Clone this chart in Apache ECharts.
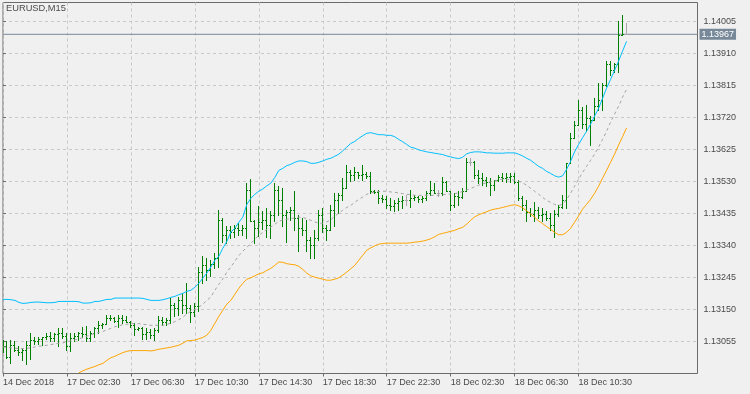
<!DOCTYPE html>
<html><head><meta charset="utf-8">
<script src="https://cdn.jsdelivr.net/npm/echarts@6/dist/echarts.min.js"></script>
<style>html,body{margin:0;padding:0;background:#f0f0f0;}#c{width:750px;height:394px;}</style>
</head><body><div id="c"></div>
<script>
const symbol = 'EURUSD,M15';
const timeLabels = ['14 Dec 2018','17 Dec 02:30','17 Dec 06:30','17 Dec 10:30','17 Dec 14:30','17 Dec 18:30','17 Dec 22:30','18 Dec 02:30','18 Dec 06:30','18 Dec 10:30'];
const yTickValues = [1.13055,1.13150,1.13245,1.13340,1.13435,1.13530,1.13625,1.13720,1.13815,1.13910,1.14005];
const lastPrice = 1.13967;

const openP = [
1.13029,1.13039,1.13008,1.13044,1.13029,1.13023,1.13029,1.13044,1.13059,1.13056,
1.13062,1.13067,1.13070,1.13065,1.13076,1.13079,1.13070,1.13041,1.13065,1.13070,
1.13079,1.13076,1.13065,1.13079,1.13094,1.13103,1.13106,1.13124,1.13122,1.13115,
1.13124,1.13118,1.13112,1.13103,1.13091,1.13094,1.13076,1.13082,1.13074,1.13088,
1.13118,1.13112,1.13118,1.13163,1.13154,1.13177,1.13163,1.13154,1.13142,1.13160,
1.13261,1.13281,1.13266,1.13284,1.13302,1.13415,1.13370,1.13385,1.13379,1.13391,
1.13385,1.13391,1.13504,1.13412,1.13391,1.13409,1.13415,1.13400,1.13430,1.13504,
1.13474,1.13430,1.13439,1.13445,1.13421,1.13391,1.13385,1.13356,1.13341,1.13361,
1.13430,1.13391,1.13385,1.13445,1.13474,1.13489,1.13510,1.13557,1.13549,1.13557,
1.13549,1.13551,1.13546,1.13501,1.13498,1.13480,1.13477,1.13459,1.13456,1.13465,
1.13471,1.13474,1.13474,1.13480,1.13483,1.13477,1.13480,1.13495,1.13504,1.13495,
1.13495,1.13528,1.13499,1.13459,1.13486,1.13483,1.13501,1.13587,1.13587,1.13549,
1.13540,1.13534,1.13528,1.13519,1.13534,1.13543,1.13540,1.13543,1.13546,1.13528,
1.13480,1.13459,1.13439,1.13433,1.13445,1.13430,1.13433,1.13421,1.13400,1.13433,
1.13454,1.13474,1.13583,1.13658,1.13697,1.13741,1.13700,1.13718,1.13712,1.13753,
1.13771,1.13816,1.13878,1.13860,1.13878,1.13964,1.13967];
const highP = [
1.13059,1.13054,1.13059,1.13056,1.13039,1.13034,1.13054,1.13079,1.13067,1.13067,
1.13068,1.13079,1.13083,1.13080,1.13095,1.13093,1.13079,1.13079,1.13080,1.13083,
1.13098,1.13100,1.13086,1.13098,1.13113,1.13108,1.13133,1.13133,1.13125,1.13133,
1.13133,1.13128,1.13113,1.13108,1.13096,1.13098,1.13093,1.13090,1.13093,1.13128,
1.13125,1.13123,1.13182,1.13168,1.13187,1.13197,1.13227,1.13163,1.13168,1.13276,
1.13308,1.13301,1.13296,1.13316,1.13445,1.13420,1.13395,1.13395,1.13400,1.13405,
1.13400,1.13524,1.13536,1.13415,1.13456,1.13440,1.13450,1.13440,1.13524,1.13514,
1.13509,1.13445,1.13454,1.13499,1.13430,1.13420,1.13415,1.13365,1.13385,1.13445,
1.13450,1.13400,1.13460,1.13494,1.13494,1.13540,1.13578,1.13563,1.13573,1.13558,
1.13578,1.13558,1.13558,1.13504,1.13504,1.13489,1.13484,1.13479,1.13474,1.13479,
1.13484,1.13489,1.13504,1.13489,1.13484,1.13484,1.13499,1.13529,1.13524,1.13504,
1.13543,1.13529,1.13501,1.13494,1.13499,1.13509,1.13598,1.13598,1.13588,1.13563,
1.13554,1.13543,1.13539,1.13534,1.13549,1.13554,1.13554,1.13554,1.13554,1.13534,
1.13484,1.13474,1.13451,1.13469,1.13454,1.13450,1.13440,1.13435,1.13445,1.13460,
1.13489,1.13583,1.13672,1.13707,1.13771,1.13751,1.13756,1.13722,1.13776,1.13821,
1.13822,1.13885,1.13885,1.13880,1.14004,1.14024,1.13999];
const lowP = [
1.13023,1.13004,1.12991,1.13024,1.13014,1.12999,1.12987,1.13001,1.13047,1.13047,
1.13044,1.13061,1.13054,1.13056,1.13039,1.13064,1.13029,1.13026,1.13054,1.13059,
1.13068,1.13054,1.13054,1.13068,1.13079,1.13093,1.13106,1.13118,1.13110,1.13098,
1.13108,1.13110,1.13098,1.13074,1.13088,1.13061,1.13061,1.13064,1.13059,1.13083,
1.13103,1.13103,1.13108,1.13128,1.13133,1.13138,1.13138,1.13110,1.13128,1.13143,
1.13227,1.13237,1.13247,1.13272,1.13276,1.13350,1.13346,1.13361,1.13364,1.13370,
1.13370,1.13361,1.13410,1.13346,1.13367,1.13387,1.13364,1.13361,1.13410,1.13430,
1.13395,1.13350,1.13415,1.13385,1.13321,1.13370,1.13321,1.13301,1.13301,1.13356,
1.13380,1.13356,1.13385,1.13395,1.13435,1.13474,1.13509,1.13529,1.13534,1.13539,
1.13534,1.13539,1.13494,1.13494,1.13464,1.13469,1.13450,1.13445,1.13440,1.13445,
1.13450,1.13460,1.13454,1.13474,1.13469,1.13469,1.13474,1.13489,1.13494,1.13484,
1.13489,1.13499,1.13445,1.13454,1.13460,1.13479,1.13499,1.13578,1.13539,1.13524,
1.13519,1.13514,1.13489,1.13504,1.13529,1.13529,1.13528,1.13528,1.13524,1.13474,
1.13445,1.13410,1.13425,1.13410,1.13420,1.13410,1.13415,1.13385,1.13365,1.13425,
1.13450,1.13450,1.13583,1.13657,1.13697,1.13687,1.13677,1.13638,1.13712,1.13741,
1.13741,1.13811,1.13845,1.13855,1.13855,1.13964,1.13967];
const closeP = [
1.13039,1.13008,1.13044,1.13029,1.13023,1.13029,1.13044,1.13059,1.13056,1.13062,
1.13067,1.13070,1.13065,1.13076,1.13079,1.13070,1.13041,1.13065,1.13070,1.13079,
1.13076,1.13065,1.13079,1.13094,1.13103,1.13106,1.13124,1.13122,1.13115,1.13124,
1.13118,1.13112,1.13103,1.13091,1.13094,1.13076,1.13082,1.13074,1.13088,1.13118,
1.13112,1.13118,1.13163,1.13154,1.13177,1.13163,1.13154,1.13142,1.13160,1.13261,
1.13281,1.13266,1.13284,1.13302,1.13415,1.13370,1.13385,1.13379,1.13391,1.13385,
1.13391,1.13504,1.13412,1.13391,1.13409,1.13415,1.13400,1.13430,1.13504,1.13474,
1.13430,1.13439,1.13445,1.13421,1.13391,1.13385,1.13356,1.13341,1.13361,1.13430,
1.13391,1.13385,1.13445,1.13474,1.13489,1.13510,1.13557,1.13549,1.13557,1.13549,
1.13551,1.13546,1.13501,1.13498,1.13480,1.13477,1.13459,1.13456,1.13465,1.13471,
1.13474,1.13474,1.13480,1.13483,1.13477,1.13480,1.13495,1.13504,1.13495,1.13495,
1.13528,1.13499,1.13459,1.13486,1.13483,1.13501,1.13587,1.13587,1.13549,1.13540,
1.13534,1.13528,1.13519,1.13534,1.13543,1.13540,1.13543,1.13546,1.13528,1.13480,
1.13459,1.13439,1.13433,1.13445,1.13430,1.13433,1.13421,1.13400,1.13433,1.13454,
1.13474,1.13583,1.13658,1.13697,1.13741,1.13700,1.13718,1.13712,1.13753,1.13771,
1.13816,1.13878,1.13860,1.13878,1.13964,1.13967,1.13967];

const upperBand = [
1.13180,1.13180,1.13179,1.13177,1.13171,1.13168,1.13169,1.13171,1.13172,1.13172,
1.13171,1.13170,1.13170,1.13171,1.13174,1.13174,1.13174,1.13174,1.13174,1.13173,
1.13169,1.13169,1.13170,1.13174,1.13174,1.13177,1.13180,1.13180,1.13184,1.13184,
1.13184,1.13184,1.13184,1.13184,1.13184,1.13183,1.13180,1.13177,1.13177,1.13177,
1.13179,1.13182,1.13186,1.13189,1.13194,1.13198,1.13204,1.13207,1.13216,1.13228,
1.13243,1.13258,1.13276,1.13296,1.13308,1.13332,1.13352,1.13380,1.13391,1.13409,
1.13424,1.13462,1.13480,1.13492,1.13501,1.13508,1.13517,1.13525,1.13542,1.13563,
1.13569,1.13577,1.13581,1.13587,1.13591,1.13591,1.13589,1.13584,1.13584,1.13587,
1.13591,1.13596,1.13599,1.13605,1.13611,1.13621,1.13632,1.13643,1.13649,1.13658,
1.13666,1.13673,1.13675,1.13672,1.13669,1.13669,1.13667,1.13667,1.13663,1.13655,
1.13648,1.13640,1.13632,1.13629,1.13624,1.13621,1.13618,1.13616,1.13614,1.13612,
1.13610,1.13606,1.13603,1.13600,1.13598,1.13602,1.13612,1.13616,1.13618,1.13618,
1.13617,1.13615,1.13615,1.13614,1.13614,1.13614,1.13615,1.13615,1.13615,1.13611,
1.13606,1.13599,1.13593,1.13584,1.13575,1.13569,1.13560,1.13554,1.13547,1.13543,
1.13547,1.13566,1.13590,1.13618,1.13640,1.13660,1.13679,1.13700,1.13724,1.13747,
1.13777,1.13807,1.13833,1.13860,1.13887,1.13917,1.13946];
const middleBand = [
1.13039,1.13038,1.13036,1.13035,1.13034,1.13034,1.13035,1.13036,1.13039,1.13041,
1.13042,1.13044,1.13046,1.13048,1.13050,1.13051,1.13054,1.13057,1.13060,1.13063,
1.13066,1.13071,1.13075,1.13079,1.13082,1.13085,1.13090,1.13094,1.13099,1.13102,
1.13105,1.13106,1.13108,1.13108,1.13108,1.13106,1.13105,1.13103,1.13103,1.13103,
1.13103,1.13106,1.13109,1.13114,1.13120,1.13127,1.13137,1.13145,1.13151,1.13157,
1.13166,1.13177,1.13187,1.13207,1.13225,1.13241,1.13261,1.13276,1.13293,1.13310,
1.13323,1.13335,1.13346,1.13359,1.13370,1.13379,1.13388,1.13395,1.13403,1.13412,
1.13416,1.13418,1.13420,1.13422,1.13424,1.13424,1.13419,1.13415,1.13410,1.13406,
1.13406,1.13410,1.13416,1.13427,1.13436,1.13445,1.13453,1.13459,1.13468,1.13477,
1.13484,1.13492,1.13496,1.13499,1.13500,1.13501,1.13501,1.13499,1.13498,1.13496,
1.13494,1.13492,1.13491,1.13489,1.13489,1.13489,1.13489,1.13489,1.13489,1.13489,
1.13491,1.13492,1.13493,1.13494,1.13496,1.13501,1.13505,1.13509,1.13514,1.13519,
1.13523,1.13526,1.13529,1.13532,1.13535,1.13537,1.13537,1.13535,1.13534,1.13531,
1.13526,1.13519,1.13510,1.13501,1.13492,1.13483,1.13474,1.13468,1.13462,1.13459,
1.13462,1.13477,1.13495,1.13516,1.13537,1.13557,1.13575,1.13593,1.13611,1.13632,
1.13655,1.13679,1.13706,1.13730,1.13753,1.13780,1.13804];
const lowerBand = [
null,null,null,null,null,null,null,null,null,null,
null,null,null,null,null,null,null,null,null,1.12962,
1.12968,1.12973,1.12977,1.12981,1.12986,1.12990,1.12999,1.13007,1.13011,1.13017,
1.13022,1.13026,1.13028,1.13028,1.13028,1.13028,1.13028,1.13027,1.13029,1.13032,
1.13034,1.13036,1.13038,1.13041,1.13044,1.13050,1.13057,1.13058,1.13059,1.13063,
1.13067,1.13074,1.13088,1.13109,1.13130,1.13148,1.13166,1.13177,1.13195,1.13213,
1.13228,1.13240,1.13244,1.13250,1.13256,1.13259,1.13266,1.13272,1.13281,1.13291,
1.13290,1.13286,1.13284,1.13283,1.13278,1.13269,1.13258,1.13250,1.13246,1.13243,
1.13240,1.13237,1.13237,1.13240,1.13244,1.13252,1.13261,1.13271,1.13281,1.13296,
1.13311,1.13326,1.13333,1.13339,1.13344,1.13346,1.13347,1.13347,1.13347,1.13347,
1.13347,1.13347,1.13348,1.13350,1.13351,1.13353,1.13356,1.13360,1.13366,1.13373,
1.13376,1.13379,1.13382,1.13385,1.13390,1.13394,1.13403,1.13415,1.13425,1.13431,
1.13436,1.13440,1.13445,1.13448,1.13450,1.13453,1.13456,1.13459,1.13461,1.13458,
1.13452,1.13443,1.13434,1.13424,1.13413,1.13405,1.13396,1.13388,1.13379,1.13372,
1.13372,1.13379,1.13391,1.13409,1.13428,1.13448,1.13462,1.13477,1.13495,1.13516,
1.13540,1.13563,1.13587,1.13611,1.13638,1.13663,1.13689];

const FONT = '"Liberation Sans", Arial, sans-serif';
const TXT = '#4a4a4a';
const FRAME = '#6b6b6b';
const X_MIN = 0, X_MAX = 173.75;
const xLabelPos = timeLabels.map((_, j) => j * 16);

const chart = echarts.init(document.getElementById('c'), null, {renderer: 'canvas'});
const barData = openP.map((o, k) => [k, o, highP[k], lowP[k], closeP[k]]);
const toLine = arr => arr.map((v, k) => [k, v]);

chart.setOption({
  animation: false,
  backgroundColor: '#f0f0f0',
  title: {text: symbol, left: 6, top: 4, padding: 0,
    textStyle: {fontFamily: FONT, fontSize: 9.3, fontWeight: 'normal', color: TXT}},
  grid: {left: 2.5, top: 2.5, right: 52.5, bottom: 20.5, show: true,
    borderColor: FRAME, borderWidth: 1, backgroundColor: 'transparent'},
  xAxis: {type: 'value', min: X_MIN, max: X_MAX, interval: 8,
    axisLine: {show: false},
    axisTick: {show: true, length: 3, lineStyle: {color: FRAME}, customValues: xLabelPos},
    axisLabel: {customValues: xLabelPos,
      formatter: v => { const j = xLabelPos.indexOf(Math.round(v)); return j >= 0 && Math.abs(v - xLabelPos[j]) < 1e-6 ? timeLabels[j] : ''; },
      align: 'left', verticalAlign: 'middle', margin: 9, color: TXT, fontFamily: FONT, fontSize: 9},
    splitLine: {show: true, lineStyle: {color: '#c8c8c8', type: [3, 3], width: 1}}},
  yAxis: {type: 'value', position: 'right', min: 1.12960, max: 1.140614, interval: 0.00095,
    axisLine: {show: false},
    axisTick: {show: true, length: 3, lineStyle: {color: FRAME}, customValues: yTickValues},
    axisLabel: {customValues: yTickValues,
      formatter: v => v.toFixed(5), align: 'left', verticalAlign: 'middle', margin: 6,
      color: TXT, fontFamily: FONT, fontSize: 9},
    splitLine: {show: true, lineStyle: {color: '#c8c8c8', type: [3, 3], width: 1}}},
  series: [
    {type: 'line', name: 'price', data: [[X_MIN, lastPrice], [X_MAX, lastPrice]],
      showSymbol: false, silent: true, z: 2,
      lineStyle: {color: '#778899', width: 1},
      endLabel: {show: true, formatter: lastPrice.toFixed(5), distance: 2,
        color: '#ffffff', backgroundColor: '#778899', padding: [1, 2, 1, 2],
        fontFamily: FONT, fontSize: 9}},
    {type: 'custom', name: 'bars', data: barData, clip: true, z: 3,
      encode: {x: 0, y: [1, 2, 3, 4]},
      renderItem: function (params, api) {
        const k = api.value(0);
        const o = api.value(1), h = api.value(2), l = api.value(3), c = api.value(4);
        const pH = api.coord([k, h]), pL = api.coord([k, l]);
        const pO = api.coord([k, o]), pC = api.coord([k, c]);
        const x = Math.floor(pH[0]);
        const yH = Math.floor(pH[1]), yL = Math.floor(pL[1]);
        const color = (o === c) ? '#a8a8a8' : '#008000';
        return {type: 'group', children: [
          {type: 'rect', shape: {x: x, y: yH, width: 1, height: Math.max(1, yL - yH + 1)}, style: {fill: color}},
          {type: 'rect', shape: {x: x - 1, y: Math.floor(pO[1]), width: 1, height: 1}, style: {fill: color}},
          {type: 'rect', shape: {x: x + 1, y: Math.floor(pC[1]), width: 1, height: 1}, style: {fill: color}}
        ]};
      }},
    {type: 'line', name: 'upper', data: toLine(upperBand), showSymbol: false, z: 4,
      lineStyle: {color: '#00bfff', width: 1}, itemStyle: {color: '#00bfff'}},
    {type: 'line', name: 'middle', data: toLine(middleBand), showSymbol: false, z: 4,
      lineStyle: {color: '#a4a4a4', width: 1, type: [3, 3]}, itemStyle: {color: '#a4a4a4'}},
    {type: 'line', name: 'lower', data: toLine(lowerBand), showSymbol: false, z: 4, connectNulls: false,
      lineStyle: {color: '#ffa500', width: 1}, itemStyle: {color: '#ffa500'}}
  ]
});
</script>
</body></html>
